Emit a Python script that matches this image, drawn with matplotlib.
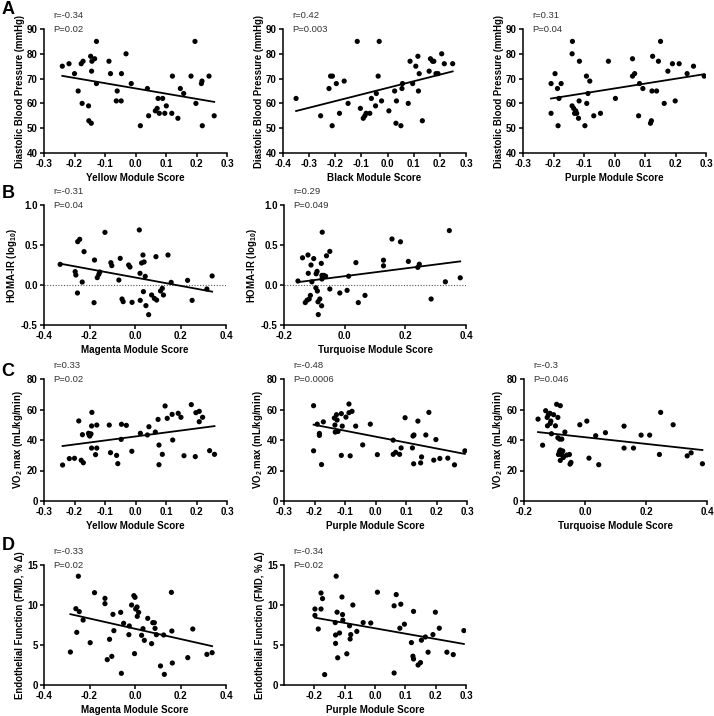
import numpy as np
import matplotlib
matplotlib.use("Agg")
import matplotlib.pyplot as plt

plt.rcParams['font.family'] = ['Liberation Sans', 'DejaVu Sans']
plt.rcParams['axes.unicode_minus'] = False
plt.rcParams['mathtext.default'] = 'regular'

# ---- data ----
yellow_dbp_x = [-0.240, -0.218, -0.200, -0.188, -0.178, -0.172, -0.175, -0.154, -0.153, -0.145,
                -0.147, -0.143, -0.134, -0.128, -0.144, -0.128, -0.087, -0.082, -0.060, -0.063,
                -0.047, -0.046, -0.031, -0.014, 0.016, 0.039, 0.043, 0.065, 0.071, 0.074,
                0.078, 0.089, 0.096, 0.101, 0.119, 0.121, 0.139, 0.147, 0.158, 0.182,
                0.195, 0.198, 0.216, 0.218, 0.219, 0.241, 0.258]
yellow_dbp_y = [75, 76, 72, 65, 76, 77, 60, 59, 53, 52,
                79, 77, 78, 85, 73, 68, 77, 72, 65, 61,
                61, 72, 80, 68, 51, 66, 55, 57, 58, 62,
                56, 62, 56, 59, 56, 71, 54, 66, 64, 71,
                85, 60, 68, 69, 51, 71, 55]

black_dbp_x = [-0.350, -0.256, -0.224, -0.218, -0.211, -0.212, -0.196, -0.184, -0.166, -0.151,
               -0.116, -0.104, -0.093, -0.087, -0.082, -0.068, -0.062, -0.046, -0.043, -0.036,
               -0.032, -0.023, 0.005, 0.027, 0.032, 0.034, 0.051, 0.055, 0.057, 0.079,
               0.086, 0.096, 0.108, 0.116, 0.121, 0.118, 0.133, 0.159, 0.164, 0.172,
               0.177, 0.185, 0.193, 0.207, 0.217, 0.249]
black_dbp_y = [62, 55, 66, 71, 71, 51, 68, 56, 69, 60,
               85, 58, 54, 55, 56, 56, 62, 59, 64, 71,
               85, 61, 57, 65, 52, 61, 51, 66, 68, 60,
               77, 68, 75, 79, 72, 65, 53, 73, 78, 77,
               77, 72, 72, 80, 76, 76]

purple_dbp_x = [-0.208, -0.208, -0.195, -0.187, -0.185, -0.182, -0.175, -0.138, -0.139, -0.139,
                -0.134, -0.131, -0.127, -0.124, -0.115, -0.116, -0.118, -0.097, -0.092, -0.091,
                -0.087, -0.081, -0.068, -0.046, -0.020, 0.003, 0.059, 0.059, 0.066, 0.079,
                0.082, 0.093, 0.118, 0.121, 0.123, 0.125, 0.138, 0.144, 0.151, 0.163,
                0.175, 0.190, 0.199, 0.212, 0.238, 0.259, 0.294]
purple_dbp_y = [68, 56, 72, 66, 51, 62, 68, 85, 80, 59,
                58, 56, 57, 56, 77, 61, 54, 51, 71, 60,
                64, 69, 55, 56, 77, 62, 78, 71, 72, 55,
                68, 66, 52, 53, 65, 79, 65, 77, 85, 60,
                73, 76, 61, 76, 72, 75, 71]

magenta_homa_x = [-0.329, -0.253, -0.263, -0.260, -0.252, -0.243, -0.224, -0.232, -0.180, -0.178,
                  -0.166, -0.159, -0.155, -0.132, -0.106, -0.102, -0.065, -0.071, -0.057, -0.052,
                  -0.013, -0.028, -0.022, 0.019, 0.022, 0.023, 0.029, 0.035, 0.040, 0.045,
                  0.037, 0.048, 0.060, 0.073, 0.085, 0.095, 0.092, 0.112, 0.120, 0.125,
                  0.145, 0.159, 0.231, 0.251, 0.316, 0.339]
magenta_homa_y = [0.258, -0.100, 0.167, 0.125, 0.542, 0.571, 0.417, 0.037, -0.221, 0.312,
                  0.092, 0.133, 0.162, 0.658, 0.279, 0.242, 0.333, 0.062, -0.175, -0.208,
                  -0.217, 0.250, 0.225, 0.688, 0.146, -0.192, 0.275, 0.375, 0.288, 0.108,
                  -0.083, -0.258, -0.371, -0.125, -0.167, -0.188, 0.354, -0.075, -0.042, -0.125,
                  0.375, 0.033, 0.058, -0.192, -0.050, 0.113]

turq_homa_x = [-0.154, -0.139, -0.130, -0.124, -0.121, -0.120, -0.117, -0.113, -0.111, -0.108,
               -0.102, -0.095, -0.094, -0.091, -0.090, -0.088, -0.087, -0.082, -0.077, -0.076,
               -0.074, -0.075, -0.075, -0.069, -0.063, -0.060, -0.049, -0.049, -0.016, 0.008,
               0.013, 0.037, 0.045, 0.067, 0.128, 0.128, 0.156, 0.184, 0.210, 0.241,
               0.246, 0.285, 0.332, 0.345, 0.381]
turq_homa_y = [0.05, 0.34, -0.22, -0.19, 0.375, 0.146, -0.175, -0.13, 0.25, 0.04,
               0.33, -0.035, 0.14, 0.17, -0.075, -0.21, -0.37, -0.175, 0.27, -0.26,
               0.66, 0.12, 0.075, 0.12, 0.11, 0.365, 0.42, -0.05, -0.10, -0.067,
               0.11, 0.28, -0.22, -0.13, 0.31, 0.24, 0.575, 0.54, 0.295, 0.22,
               0.26, -0.175, 0.04, 0.68, 0.09]

yellow_vo2_x = [-0.239, -0.217, -0.200, -0.186, -0.178, -0.171, -0.174, -0.154, -0.152, -0.150,
                -0.146, -0.143, -0.144, -0.144, -0.131, -0.127, -0.127, -0.086, -0.082, -0.062,
                -0.058, -0.046, -0.030, -0.047, -0.012, 0.016, 0.039, 0.044, 0.065, 0.074,
                0.077, 0.077, 0.088, 0.097, 0.104, 0.120, 0.122, 0.140, 0.149, 0.159,
                0.183, 0.196, 0.198, 0.209, 0.209, 0.220, 0.243, 0.259]
yellow_vo2_y = [23.6, 27.8, 28, 52.5, 26.7, 25.1, 43.5, 44.4, 43.3, 42.6,
                44, 58.1, 49.2, 34.7, 30.4, 34.7, 49.8, 49.8, 31.7, 29.9,
                24.5, 50.3, 49.6, 40.4, 32.6, 44.4, 43.3, 48.7, 45.2, 53.5,
                36.7, 23.8, 30.6, 62.3, 54.2, 56.8, 40, 57.5, 54.9, 29.7,
                63.2, 29.1, 57.9, 58.8, 52, 54.9, 33, 30.6]

purple_vo2_x = [-0.203, -0.203, -0.191, -0.184, -0.184, -0.177, -0.171, -0.135, -0.133, -0.132,
                -0.128, -0.126, -0.123, -0.112, -0.112, -0.109, -0.097, -0.087, -0.087, -0.083,
                -0.077, -0.065, -0.042, -0.017, 0.006, 0.058, 0.058, 0.066, 0.079, 0.084,
                0.097, 0.121, 0.123, 0.126, 0.125, 0.139, 0.148, 0.151, 0.165, 0.175,
                0.191, 0.198, 0.211, 0.237, 0.259, 0.293]
purple_vo2_y = [62.5, 32.9, 50.4, 44.3, 43, 23.9, 51.9, 54.4, 49.8, 45.2,
                56.6, 53.1, 45.6, 57.3, 29.9, 49.1, 55, 63.6, 57.9, 29.6,
                58.8, 49.1, 36.8, 50.4, 30.4, 39.9, 30.6, 31.9, 30.6, 34.8,
                54.6, 34.8, 42.6, 43.3, 24.4, 52.4, 25, 28.9, 43.3, 58.1,
                26.8, 40.3, 27.9, 28.1, 23.7, 32.9]

turq_vo2_x = [-0.154, -0.139, -0.129, -0.124, -0.123, -0.120, -0.115, -0.114, -0.112, -0.110,
              -0.103, -0.097, -0.093, -0.089, -0.089, -0.087, -0.084, -0.083, -0.081, -0.081,
              -0.081, -0.076, -0.075, -0.073, -0.071, -0.066, -0.060, -0.051, -0.049, -0.046,
              -0.017, 0.006, 0.013, 0.035, 0.045, 0.067, 0.128, 0.128, 0.159, 0.184,
              0.212, 0.244, 0.248, 0.289, 0.335, 0.348, 0.385]
turq_vo2_y = [53.7, 36.6, 59.2, 54.8, 49.3, 56.6, 57.5, 50.9, 52.4, 44.1,
              56.6, 49.3, 63.4, 54.8, 41.5, 30.5, 32.3, 40.6, 62.5, 33.4,
              26.6, 40.6, 30.1, 32.8, 28.5, 45.2, 30.1, 30.5, 24.2, 25.3,
              50, 52.4, 28.1, 42.8, 23.8, 44.8, 49.1, 34.7, 34.7, 43.2,
              43.2, 30.5, 58.1, 50, 29.6, 31.6, 24.4]

magenta_fmd_x = [-0.284, -0.249, -0.260, -0.245, -0.256, -0.228, -0.197, -0.178, -0.132, -0.132,
                 -0.112, -0.122, -0.102, -0.097, -0.093, -0.063, -0.050, -0.060, -0.015, -0.025,
                 -0.027, -0.005, 0.000, 0.003, -0.002, 0.009, 0.010, 0.016, 0.029, 0.035,
                 0.041, 0.056, 0.073, 0.078, 0.088, 0.085, 0.094, 0.112, 0.126, 0.129,
                 0.162, 0.160, 0.164, 0.232, 0.254, 0.316, 0.339]
magenta_fmd_y = [4.12, 13.6, 9.54, 9.17, 6.58, 8.12, 5.29, 11.54, 10.83, 10.17,
                 5.71, 3.17, 3.58, 8.83, 6.79, 9.08, 7.71, 1.46, 10.0, 7.38,
                 6.29, 11.17, 10.96, 9.5, 3.92, 9.75, 8.58, 9.08, 6.21, 7.04,
                 5.58, 8.33, 5.17, 7.79, 7.08, 7.79, 6.29, 2.38, 6.25, 1.33,
                 6.75, 11.58, 2.75, 3.42, 7.0, 3.83, 4.04]

purple_fmd_x = [-0.198, -0.198, -0.187, -0.178, -0.178, -0.173, -0.166, -0.131, -0.130, -0.130,
                -0.128, -0.125, -0.123, -0.117, -0.109, -0.107, -0.106, -0.093, -0.084, -0.082,
                -0.080, -0.073, -0.060, -0.039, -0.014, 0.008, 0.063, 0.063, 0.070, 0.082,
                0.085, 0.097, 0.120, 0.125, 0.127, 0.127, 0.142, 0.150, 0.153, 0.166,
                0.175, 0.191, 0.199, 0.212, 0.237, 0.258, 0.293]
purple_fmd_y = [9.5, 8.7, 7.0, 11.5, 9.5, 10.8, 1.3, 7.8, 6.25, 5.2,
                13.6, 9.1, 3.4, 6.5, 11.0, 8.8, 8.1, 3.9, 7.4, 5.75,
                6.3, 10.0, 6.7, 7.8, 7.75, 11.6, 9.9, 1.5, 11.3, 7.1,
                10.1, 7.6, 5.3, 3.6, 3.25, 9.2, 2.5, 2.8, 5.6, 6.0,
                4.1, 6.3, 9.1, 7.1, 4.1, 3.8, 6.8]

stats_text = [("r=-0.34", "P=0.02"), ("r=0.42", "P=0.003"), ("r=0.31", "P=0.04"),
              ("r=-0.31", "P=0.04"), ("r=0.29", "P=0.049"),
              ("r=0.33", "P=0.02"), ("r=-0.48", "P=0.0006"), ("r=-0.3", "P=0.046"),
              ("r=-0.33", "P=0.02"), ("r=-0.34", "P=0.02")]

W, H = 714, 716
fig = plt.figure(figsize=(W / 100, H / 100), dpi=100)


def add_panel(left, top, right, bottom):
    # pixel box -> figure fraction
    return fig.add_axes([left / W, 1 - bottom / H, (right - left) / W, (bottom - top) / H])


def draw(ax, x, y, xlim, xticks, ylim, yticks, xlabel, ylabel, stats, yfmt="%d", zero_line=False):
    x = np.array(x)
    y = np.array(y)
    if zero_line:
        ax.axhline(0, color="#555555", lw=0.8, ls=(0, (1, 1.5)), zorder=1)
    ax.scatter(x, y, s=14, color="black", edgecolors="none", zorder=3)
    k, b = np.polyfit(x, y, 1)
    xs = np.array([x.min(), x.max()])
    ax.plot(xs, k * xs + b, color="black", lw=1.3, zorder=4)

    ax.set_xlim(xlim)
    ax.set_ylim(ylim)
    ax.set_xticks(xticks)
    ax.set_yticks(yticks)
    ax.set_xticklabels(["%.1f" % t for t in xticks])
    ax.set_yticklabels([yfmt % t for t in yticks])
    for s in ["top", "right"]:
        ax.spines[s].set_visible(False)
    for s in ["left", "bottom"]:
        ax.spines[s].set_linewidth(1.1)
    ax.tick_params(direction="out", length=3, width=1.1, labelsize=7, pad=1.5)
    for lab in ax.get_xticklabels() + ax.get_yticklabels():
        lab.set_fontweight("bold")
    ax.set_xlabel(xlabel, fontsize=7.1, fontweight="bold", labelpad=3)
    ax.set_ylabel(ylabel, fontsize=6.9, fontweight="bold", labelpad=1.5)
    ax.text(0.05, 1.11, stats[0], transform=ax.transAxes, fontsize=6.8, color="#333333",
            ha="left", va="center")
    ax.text(0.05, 1.0, stats[1], transform=ax.transAxes, fontsize=6.8, color="#333333",
            ha="left", va="center")


dbp_label = "Diastolic Blood Pressure (mmHg)"
homa_label = "HOMA-IR (log$_{10}$)"
vo2_label = "VO$_2$ max (mL/kg/min)"
fmd_label = "Endothelial Function (FMD, % \u0394)"

t3 = [-0.3, -0.2, -0.1, 0.0, 0.1, 0.2, 0.3]
t4 = [-0.4, -0.3, -0.2, -0.1, 0.0, 0.1, 0.2, 0.3]
t_m = [-0.4, -0.2, 0.0, 0.2, 0.4]
t_t = [-0.2, 0.0, 0.2, 0.4]

# row A
ax = add_panel(44, 29, 227, 153)
draw(ax, yellow_dbp_x, yellow_dbp_y, (-0.3, 0.3), t3, (40, 90), range(40, 91, 10),
     "Yellow Module Score", dbp_label, stats_text[0])
ax = add_panel(283, 29, 466, 153)
draw(ax, black_dbp_x, black_dbp_y, (-0.4, 0.3), t4, (40, 90), range(40, 91, 10),
     "Black Module Score", dbp_label, stats_text[1])
ax = add_panel(523, 29, 706, 153)
draw(ax, purple_dbp_x, purple_dbp_y, (-0.3, 0.3), t3, (40, 90), range(40, 91, 10),
     "Purple Module Score", dbp_label, stats_text[2])

# row B
ax = add_panel(44, 205, 226, 325)
draw(ax, magenta_homa_x, magenta_homa_y, (-0.4, 0.4), t_m, (-0.5, 1.0), [-0.5, 0.0, 0.5, 1.0],
     "Magenta Module Score", homa_label, stats_text[3], yfmt="%.1f", zero_line=True)
ax = add_panel(284, 205, 466, 325)
draw(ax, turq_homa_x, turq_homa_y, (-0.2, 0.4), t_t, (-0.5, 1.0), [-0.5, 0.0, 0.5, 1.0],
     "Turquoise Module Score", homa_label, stats_text[4], yfmt="%.1f", zero_line=True)

# row C
ax = add_panel(44, 379, 227, 501)
draw(ax, yellow_vo2_x, yellow_vo2_y, (-0.3, 0.3), t3, (0, 80), range(0, 81, 20),
     "Yellow Module Score", vo2_label, stats_text[5])
ax = add_panel(284, 379, 467, 501)
draw(ax, purple_vo2_x, purple_vo2_y, (-0.3, 0.3), t3, (0, 80), range(0, 81, 20),
     "Purple Module Score", vo2_label, stats_text[6])
ax = add_panel(524, 379, 707, 501)
draw(ax, turq_vo2_x, turq_vo2_y, (-0.2, 0.4), t_t, (0, 80), range(0, 81, 20),
     "Turquoise Module Score", vo2_label, stats_text[7])

# row D
ax = add_panel(44, 565, 226, 685)
draw(ax, magenta_fmd_x, magenta_fmd_y, (-0.4, 0.4), t_m, (0, 15), range(0, 16, 5),
     "Magenta Module Score", fmd_label, stats_text[8])
ax = add_panel(284, 565, 466, 685)
draw(ax, purple_fmd_x, purple_fmd_y, (-0.3, 0.3), t3[1:], (0, 15), range(0, 16, 5),
     "Purple Module Score", fmd_label, stats_text[9])

# panel letters
for letter, ypx in [("A", 10), ("B", 194), ("C", 372), ("D", 546)]:
    fig.text(8 / W, 1 - ypx / H, letter, fontsize=13, fontweight="bold", ha="center", va="center")

fig.savefig("out.png", dpi=100)
